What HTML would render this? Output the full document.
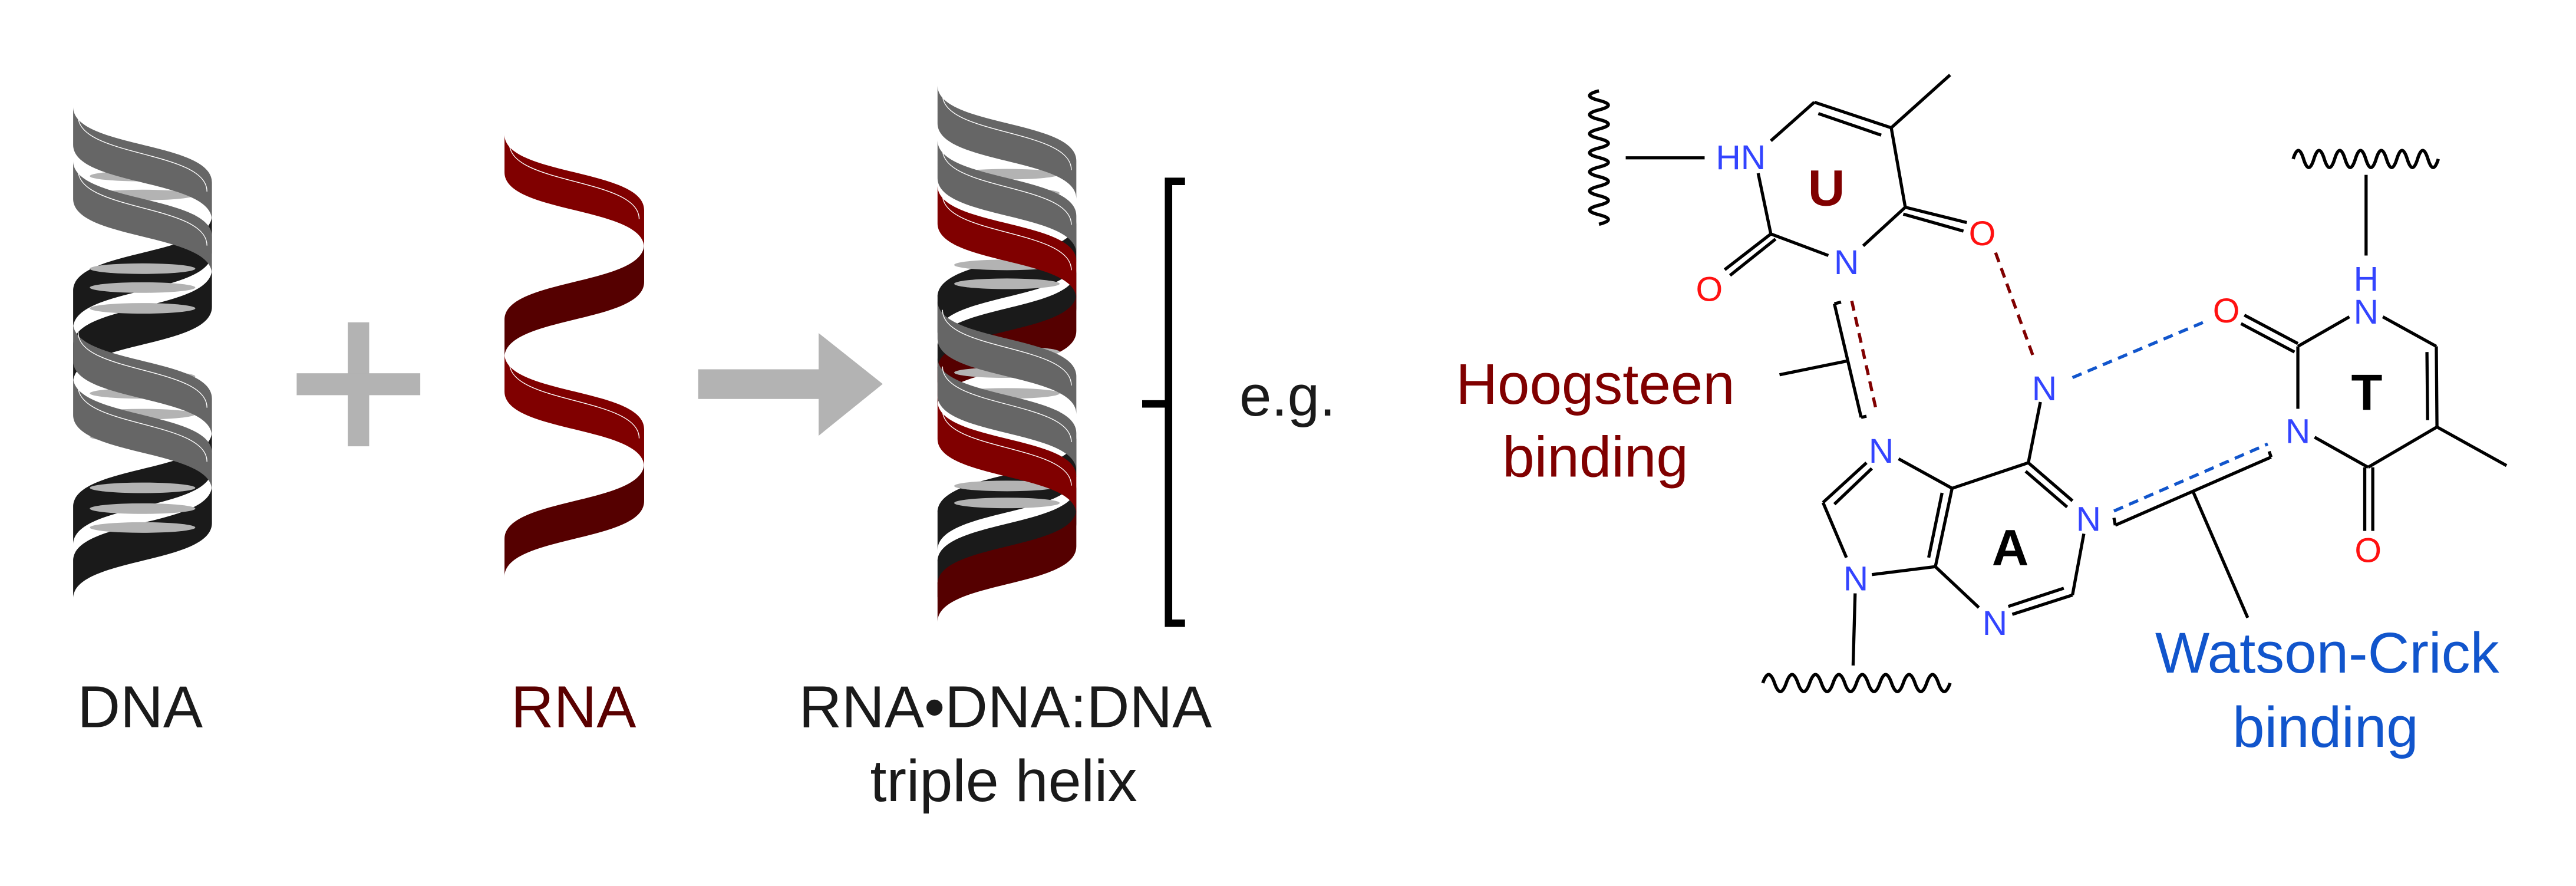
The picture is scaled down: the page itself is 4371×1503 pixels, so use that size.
<!DOCTYPE html>
<html><head><meta charset="utf-8"><style>
html,body{margin:0;padding:0;background:#fff;}
svg{display:block;}
text{font-family:"Liberation Sans",Arial,sans-serif;}
</style></head><body>
<svg id="fig" width="4371" height="1503" viewBox="0 0 1563 537.4" preserveAspectRatio="none" xmlns="http://www.w3.org/2000/svg">
<g id="helices" transform="translate(0,35.75) scale(0.5043,0.2292)"></g>
<g fill="#b3b3b3">
<rect x="211" y="195.5" width="13" height="75.2"/>
<rect x="180" y="226.4" width="75" height="13.3"/>
</g>
<g fill="#b3b3b3">
<rect x="423.6" y="224" width="74" height="18"/>
<polygon points="496.7,202 535.6,232.9 496.7,264.3"/>
</g>
<g stroke="#000" stroke-width="4.5" fill="none">
<polyline points="719,110 709,110 709,378 719,378"/>
<line x1="693" y1="245" x2="709" y2="245"/>
</g>
<text x="752" y="252" font-size="35" fill="#1a1a1a">e.g.</text>
<text x="85" y="441" font-size="36" text-anchor="middle" fill="#1a1a1a">DNA</text>
<text x="348" y="441" font-size="36" text-anchor="middle" fill="#5a0000">RNA</text>
<text x="610" y="441" font-size="36" text-anchor="middle" fill="#1a1a1a">RNA•DNA:DNA</text>
<text x="609" y="486" font-size="36" text-anchor="middle" fill="#1a1a1a">triple helix</text>
<text x="968" y="245" font-size="35" text-anchor="middle" fill="#800000">Hoogsteen</text>
<text x="968" y="289" font-size="35" text-anchor="middle" fill="#800000">binding</text>
<text x="1412" y="408" font-size="35" text-anchor="middle" fill="#1155cc">Watson-Crick</text>
<text x="1411" y="453" font-size="35" text-anchor="middle" fill="#1155cc">binding</text>
<g id="mol"></g>
</svg>
<script>
const NS="http://www.w3.org/2000/svg";
const H=document.getElementById('helices');
function mk(tag,attrs,parent){const e=document.createElementNS(NS,tag);for(const k in attrs)e.setAttribute(k,attrs[k]);parent.appendChild(e);return e;}
const h=200,t=100;
function ribbon(L,R,y0,dir,color,hl){
  let d;
  if(dir>0){d=`M${L},${y0} C${L},${y0+h*0.55} ${R},${y0+h*0.45} ${R},${y0+h} L${R},${y0+h+t} C${R},${y0+t+h*0.45} ${L},${y0+t+h*0.55} ${L},${y0+t} Z`;}
  else{d=`M${R},${y0} C${R},${y0+h*0.55} ${L},${y0+h*0.45} ${L},${y0+h} L${L},${y0+h+t} C${L},${y0+t+h*0.45} ${R},${y0+t+h*0.55} ${R},${y0+t} Z`;}
  const p=mk('path',{d:d,fill:color},H);
  
  
  if(hl){const o=24;const w=mk('path',{d:`M${L+6},${y0+o} C${L+6},${y0+o+h*0.55} ${R-6},${y0+o+h*0.45} ${R-6},${y0+o+h}`,fill:'none',stroke:'#fff','stroke-width':'1.4','vector-effect':'non-scaling-stroke'},H);
  
  }
}
function bases(L,R,ys){ys.forEach(y=>{const e=mk('ellipse',{cx:(L+R)/2,cy:y,rx:(R-L)/2-20,ry:14,fill:'#b3b3b3'},H);

});}
const dL=88,dR=255;
const dnaBack=[413,556,985,1128], dnaFront=[127,270,699,842];
dnaBack.forEach(y=>ribbon(dL,dR,y,-1,'#1a1a1a'));
bases(dL,dR,[310,360,415,555,605,660,840,885,940,1000,1135,1190,1240]);
dnaFront.forEach(y=>ribbon(dL,dR,y,1,'#666',true));
const rL=607,rR=775;
[490,1070].forEach(y=>ribbon(rL,rR,y,-1,'#550000'));
[200,780].forEach(y=>ribbon(rL,rR,y,1,'#800000',true));
const tL=1128,tR=1295;
[430,560,1000,1130].forEach(y=>ribbon(tL,tR,y,-1,'#1a1a1a'));
[620,1190].forEach(y=>ribbon(tL,tR,y,-1,'#550000'));
bases(tL,tR,[305,355,490,545,595,775,830,885,935,1130,1175]);
[70,215,640,790].forEach(y=>ribbon(tL,tR,y,1,'#666',true));
[335,905].forEach(y=>ribbon(tL,tR,y,1,'#800000',true));

const M=document.getElementById('mol');
const X=x=>929.6+0.4058*x, Y=y=>0.3444*y;
function ln(a,col,dash){const e=mk('line',{x1:X(a[0]),y1:Y(a[1]),x2:X(a[2]),y2:Y(a[3]),stroke:col||'#000','stroke-width':'1.9','stroke-linecap':'butt'},M);
if(dash)e.setAttribute('stroke-dasharray','6,4');

}
const bonds=[[140,278,258,278],[357,248,422,180],[422,180,537,225],[428,200,522,238],[537,225,558,365],[558,365,495,433],[443,450,357,412],[357,412,338,305],
[558,365,650,392],[555,377,645,407],[357,412,288,475],[364,421,296,485],[537,225,625,132],
[760,708,742,815],[742,815,628,860],[742,815,808,882],[738,830,800,893],[825,940,808,1048],[808,1048,718,1082],[795,1036,712,1068],
[668,1070,603,998],[603,998,628,860],[593,982,613,868],[603,998,508,1012],[470,982,435,885],[435,885,500,815],[452,888,508,825],[548,808,628,860],[483,1045,480,1172],
[1065,555,1145,605],[1060,570,1140,620],[1145,610,1222,558],[1272,558,1352,610],[1352,610,1353,752],[1338,620,1339,740],[1353,752,1457,820],[1353,752,1250,823],
[1245,823,1245,935],[1257,823,1257,935],[1250,823,1170,770],[1145,720,1145,610],[1247,308,1247,450],
[370,660,470,636],[452,535,492,735],[452,535,462,532],[492,735,500,733],[872,925,1105,805],[872,925,870,912],[1105,805,1102,795],[988,865,1070,1088]];
bonds.forEach(b=>ln(b));
ln([693,445,750,630],'#800000',true);
ln([478,530,515,725],'#800000',true);
ln([808,665,1003,568],'#1155cc',true);
ln([870,900,1100,782],'#1155cc',true);
function wavy(x0,y0,x1,y1,n,amp){
  const dx=(x1-x0)/n,dy=(y1-y0)/n;let d=`M${X(x0)},${Y(y0)}`;
  const vert=Math.abs(dy)>Math.abs(dx);
  for(let i=0;i<n;i++){const sx=x0+dx*i,sy=y0+dy*i,mx=sx+dx/2,my=sy+dy/2,s=(i%2?1:-1)*amp;
    const cx=vert?mx+s:mx, cy=vert?my:my+s;
    d+=` Q${X(cx)},${Y(cy)} ${X(sx+dx)},${Y(sy+dy)}`;}
  const p=mk('path',{d:d,fill:'none',stroke:'#000','stroke-width':'2'},M);
  
  
}
wavy(100,160,100,395,14,28);
wavy(1138,280,1355,280,14,30);
wavy(345,1203,625,1203,16,30);
function lab(s,x,y,col,size,bold,name){const e=mk('text',{x:X(x),y:Y(y),fill:col,'font-size':size,'text-anchor':'middle'},M);
if(bold)e.setAttribute('font-weight','bold');e.textContent=s;

}
const B='#3344ff',R='#ff1111';
lab('HN',312,298,B,21,0,'atom-label');lab('N',470,483,B,21,0,'atom-label');lab('O',673,432,R,21,0,'atom-label');lab('O',265,530,R,21,0,'atom-label');
lab('N',766,705,B,21,0,'atom-label');lab('N',522,815,B,21,0,'atom-label');lab('N',832,935,B,21,0,'atom-label');lab('N',484,1040,B,21,0,'atom-label');lab('N',692,1118,B,21,0,'atom-label');
lab('O',1038,568,R,21,0,'atom-label');lab('H',1247,512,B,21,0,'atom-label');lab('N',1247,570,B,21,0,'atom-label');lab('N',1145,780,B,21,0,'atom-label');lab('O',1250,990,R,21,0,'atom-label');
lab('U',440,362,'#800000',31,1,'uracil-label');lab('A',715,995,'#000',31,1,'adenine-label');lab('T',1248,722,'#000',31,1,'thymine-label');
</script>
</body></html>
